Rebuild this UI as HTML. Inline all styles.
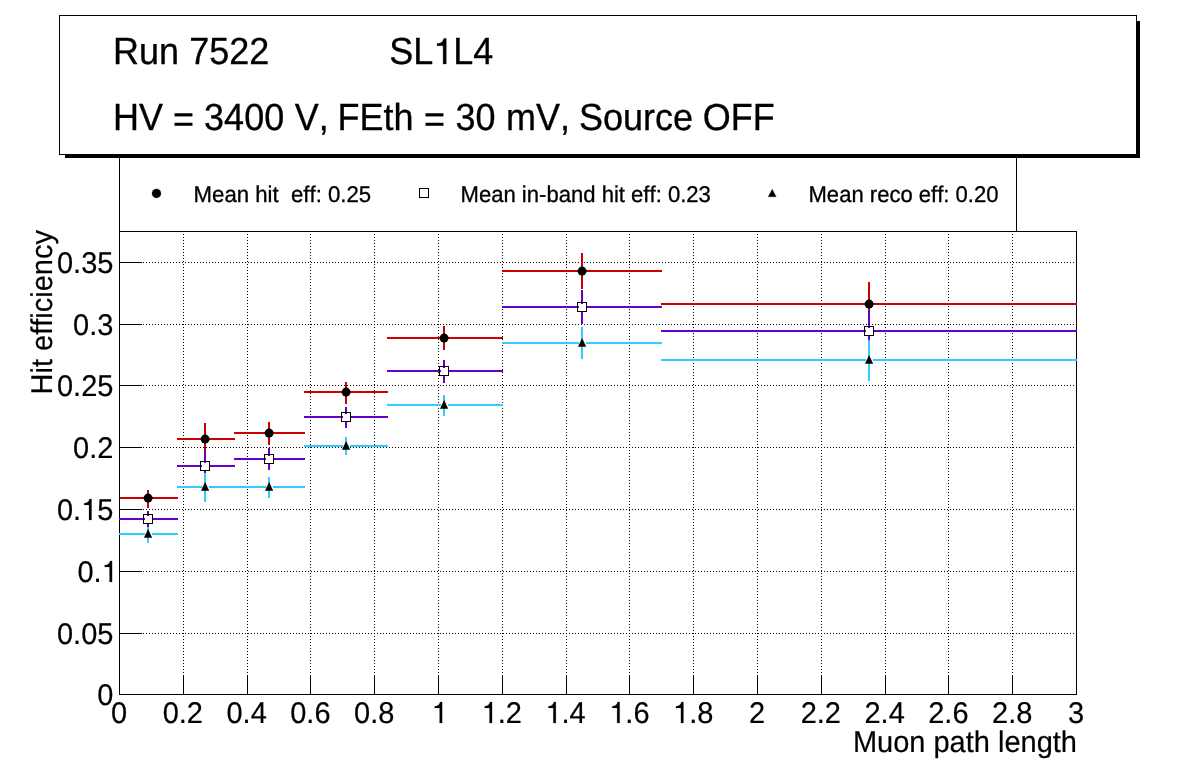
<!DOCTYPE html>
<html><head><meta charset="utf-8"><title>Hit efficiency</title>
<style>
html,body{margin:0;padding:0;background:#fff;}
body{width:1196px;height:772px;overflow:hidden;font-family:"Liberation Sans",sans-serif;}
#wrap{width:1196px;height:772px;will-change:transform;}
svg{display:block;}
svg text{font-family:"Liberation Sans",sans-serif;fill:#000;text-rendering:geometricPrecision;font-kerning:none;}
</style></head><body>
<div id="wrap">
<svg width="1196" height="772" viewBox="0 0 1196 772">
<g stroke="#000" stroke-width="1" stroke-dasharray="1 2" fill="none">
<line x1="183.5" y1="231" x2="183.5" y2="694"/>
<line x1="247.5" y1="231" x2="247.5" y2="694"/>
<line x1="310.5" y1="231" x2="310.5" y2="694"/>
<line x1="374.5" y1="231" x2="374.5" y2="694"/>
<line x1="438.5" y1="231" x2="438.5" y2="694"/>
<line x1="502.5" y1="231" x2="502.5" y2="694"/>
<line x1="566.5" y1="231" x2="566.5" y2="694"/>
<line x1="629.5" y1="231" x2="629.5" y2="694"/>
<line x1="693.5" y1="231" x2="693.5" y2="694"/>
<line x1="757.5" y1="231" x2="757.5" y2="694"/>
<line x1="821.5" y1="231" x2="821.5" y2="694"/>
<line x1="885.5" y1="231" x2="885.5" y2="694"/>
<line x1="948.5" y1="231" x2="948.5" y2="694"/>
<line x1="1012.5" y1="231" x2="1012.5" y2="694"/>
<line x1="119" y1="633.5" x2="1076" y2="633.5"/>
<line x1="119" y1="571.5" x2="1076" y2="571.5"/>
<line x1="119" y1="509.5" x2="1076" y2="509.5"/>
<line x1="119" y1="447.5" x2="1076" y2="447.5"/>
<line x1="119" y1="385.5" x2="1076" y2="385.5"/>
<line x1="119" y1="324.5" x2="1076" y2="324.5"/>
<line x1="119" y1="262.5" x2="1076" y2="262.5"/>
</g>
<g stroke="#000" stroke-width="1" fill="none" shape-rendering="crispEdges">
<rect x="119.5" y="231.5" width="957.0" height="463.0"/>
<line x1="183.5" y1="694.5" x2="183.5" y2="675.5"/>
<line x1="247.5" y1="694.5" x2="247.5" y2="675.5"/>
<line x1="310.5" y1="694.5" x2="310.5" y2="675.5"/>
<line x1="374.5" y1="694.5" x2="374.5" y2="675.5"/>
<line x1="438.5" y1="694.5" x2="438.5" y2="675.5"/>
<line x1="502.5" y1="694.5" x2="502.5" y2="675.5"/>
<line x1="566.5" y1="694.5" x2="566.5" y2="675.5"/>
<line x1="629.5" y1="694.5" x2="629.5" y2="675.5"/>
<line x1="693.5" y1="694.5" x2="693.5" y2="675.5"/>
<line x1="757.5" y1="694.5" x2="757.5" y2="675.5"/>
<line x1="821.5" y1="694.5" x2="821.5" y2="675.5"/>
<line x1="885.5" y1="694.5" x2="885.5" y2="675.5"/>
<line x1="948.5" y1="694.5" x2="948.5" y2="675.5"/>
<line x1="1012.5" y1="694.5" x2="1012.5" y2="675.5"/>
<line x1="119.5" y1="633.5" x2="141.5" y2="633.5"/>
<line x1="119.5" y1="571.5" x2="141.5" y2="571.5"/>
<line x1="119.5" y1="509.5" x2="141.5" y2="509.5"/>
<line x1="119.5" y1="447.5" x2="141.5" y2="447.5"/>
<line x1="119.5" y1="385.5" x2="141.5" y2="385.5"/>
<line x1="119.5" y1="324.5" x2="141.5" y2="324.5"/>
<line x1="119.5" y1="262.5" x2="141.5" y2="262.5"/>
</g>
<g stroke="#cc0000" stroke-width="2" fill="none" shape-rendering="crispEdges">
<line x1="120.0" y1="498" x2="178.0" y2="498"/><line x1="148" y1="490.4" x2="148" y2="507.5"/>
<line x1="177.0" y1="439" x2="235.0" y2="439"/><line x1="205" y1="423.1" x2="205" y2="452.0"/>
<line x1="234.0" y1="433" x2="305.0" y2="433"/><line x1="269" y1="422.1" x2="269" y2="444.7"/>
<line x1="304.0" y1="392" x2="388.0" y2="392"/><line x1="346" y1="382.0" x2="346" y2="403.8"/>
<line x1="387.0" y1="338" x2="503.0" y2="338"/><line x1="444" y1="326.0" x2="444" y2="349.9"/>
<line x1="502.0" y1="271" x2="662.0" y2="271"/><line x1="582" y1="253.0" x2="582" y2="288.9"/>
<line x1="661.0" y1="304" x2="1077.0" y2="304"/><line x1="869" y1="282.1" x2="869" y2="326.0"/>
</g>
<circle cx="148.1" cy="498.1" r="4.5" fill="#000"/>
<circle cx="205.1" cy="439.1" r="4.5" fill="#000"/>
<circle cx="269.1" cy="433.1" r="4.5" fill="#000"/>
<circle cx="346.1" cy="392.1" r="4.5" fill="#000"/>
<circle cx="444.1" cy="338.1" r="4.5" fill="#000"/>
<circle cx="582.1" cy="271.1" r="4.5" fill="#000"/>
<circle cx="869.1" cy="304.1" r="4.5" fill="#000"/>
<g stroke="#6600cc" stroke-width="2" fill="none" shape-rendering="crispEdges">
<line x1="119.0" y1="519" x2="178.0" y2="519"/><line x1="148" y1="511.0" x2="148" y2="528.0"/>
<line x1="177.0" y1="466" x2="235.0" y2="466"/><line x1="205" y1="451.0" x2="205" y2="482.0"/>
<line x1="234.0" y1="459" x2="305.0" y2="459"/><line x1="269" y1="447.7" x2="269" y2="469.5"/>
<line x1="304.0" y1="417" x2="388.0" y2="417"/><line x1="346" y1="407.1" x2="346" y2="427.7"/>
<line x1="387.0" y1="371" x2="503.0" y2="371"/><line x1="444" y1="359.9" x2="444" y2="382.5"/>
<line x1="502.0" y1="307" x2="662.0" y2="307"/><line x1="582" y1="290.2" x2="582" y2="324.0"/>
<line x1="661.0" y1="331" x2="1077.0" y2="331"/><line x1="869" y1="309.5" x2="869" y2="353.0"/>
</g>
<rect x="143.5" y="514.5" width="9" height="9" fill="#fff" stroke="#000" stroke-width="1" shape-rendering="crispEdges"/>
<path d="M144 519h1M148 515v1" stroke="#6600cc" stroke-width="2" shape-rendering="crispEdges"/>
<rect x="200.5" y="461.5" width="9" height="9" fill="#fff" stroke="#000" stroke-width="1" shape-rendering="crispEdges"/>
<path d="M201 466h1M205 462v1" stroke="#6600cc" stroke-width="2" shape-rendering="crispEdges"/>
<rect x="264.5" y="454.5" width="9" height="9" fill="#fff" stroke="#000" stroke-width="1" shape-rendering="crispEdges"/>
<path d="M265 459h1M269 455v1" stroke="#6600cc" stroke-width="2" shape-rendering="crispEdges"/>
<rect x="341.5" y="412.5" width="9" height="9" fill="#fff" stroke="#000" stroke-width="1" shape-rendering="crispEdges"/>
<path d="M342 417h1M346 413v1" stroke="#6600cc" stroke-width="2" shape-rendering="crispEdges"/>
<rect x="439.5" y="366.5" width="9" height="9" fill="#fff" stroke="#000" stroke-width="1" shape-rendering="crispEdges"/>
<path d="M440 371h1M444 367v1" stroke="#6600cc" stroke-width="2" shape-rendering="crispEdges"/>
<rect x="577.5" y="302.5" width="9" height="9" fill="#fff" stroke="#000" stroke-width="1" shape-rendering="crispEdges"/>
<path d="M578 307h1M582 303v1" stroke="#6600cc" stroke-width="2" shape-rendering="crispEdges"/>
<rect x="864.5" y="326.5" width="9" height="9" fill="#fff" stroke="#000" stroke-width="1" shape-rendering="crispEdges"/>
<path d="M865 331h1M869 327v1" stroke="#6600cc" stroke-width="2" shape-rendering="crispEdges"/>
<g stroke="#33ccff" stroke-width="2" fill="none" shape-rendering="crispEdges">
<line x1="119.0" y1="534" x2="145.0" y2="534"/><line x1="152.0" y1="534" x2="178.0" y2="534"/><line x1="148" y1="527.0" x2="148" y2="543.0"/>
<line x1="177.0" y1="487" x2="202.0" y2="487"/><line x1="209.0" y1="487" x2="235.0" y2="487"/><line x1="205" y1="473.0" x2="205" y2="501.6"/>
<line x1="234.0" y1="487" x2="266.0" y2="487"/><line x1="273.0" y1="487" x2="305.0" y2="487"/><line x1="269" y1="477.3" x2="269" y2="498.4"/>
<line x1="304.0" y1="446" x2="343.0" y2="446"/><line x1="350.0" y1="446" x2="388.0" y2="446"/><line x1="346" y1="437.2" x2="346" y2="455.2"/>
<line x1="387.0" y1="405" x2="441.0" y2="405"/><line x1="448.0" y1="405" x2="503.0" y2="405"/><line x1="444" y1="395.0" x2="444" y2="415.6"/>
<line x1="502.0" y1="343" x2="579.0" y2="343"/><line x1="586.0" y1="343" x2="662.0" y2="343"/><line x1="582" y1="327.0" x2="582" y2="358.6"/>
<line x1="661.0" y1="360" x2="866.0" y2="360"/><line x1="873.0" y1="360" x2="1077.0" y2="360"/><line x1="869" y1="340.0" x2="869" y2="381.0"/>
</g>
<path d="M148.1 529.1 L152.2 537.7 L144.0 537.7 Z" fill="#000"/>
<path d="M205.1 482.1 L209.2 490.7 L201.0 490.7 Z" fill="#000"/>
<path d="M269.1 482.1 L273.2 490.7 L265.0 490.7 Z" fill="#000"/>
<path d="M346.1 441.1 L350.2 449.7 L342.0 449.7 Z" fill="#000"/>
<path d="M444.1 400.1 L448.2 408.7 L440.0 408.7 Z" fill="#000"/>
<path d="M582.1 338.1 L586.2 346.7 L578.0 346.7 Z" fill="#000"/>
<path d="M869.1 355.1 L873.2 363.7 L865.0 363.7 Z" fill="#000"/>
<g font-size="29.0" stroke="#000" stroke-width="0.2">
<text transform="translate(110.94,723.00) scale(1,1.035)" font-size="29" stroke="#000" stroke-width="0.2"><tspan x="0.00">0</tspan></text>
<text transform="translate(162.64,723.00) scale(1,1.035)" font-size="29" stroke="#000" stroke-width="0.2"><tspan x="0.00">0.2</tspan></text>
<text transform="translate(226.44,723.00) scale(1,1.035)" font-size="29" stroke="#000" stroke-width="0.2"><tspan x="0.00">0.4</tspan></text>
<text transform="translate(290.24,723.00) scale(1,1.035)" font-size="29" stroke="#000" stroke-width="0.2"><tspan x="0.00">0.6</tspan></text>
<text transform="translate(354.04,723.00) scale(1,1.035)" font-size="29" stroke="#000" stroke-width="0.2"><tspan x="0.00">0.8</tspan></text>
<path transform="translate(431.74,723.00) scale(0.02900,-0.02962)" d="M359 0H272V508H104V566C196 568 262 604 291 709H359Z" stroke="#000" stroke-width="0.2" vector-effect="non-scaling-stroke"/>
<text transform="translate(481.64,723.00) scale(1,1.035)" font-size="29" stroke="#000" stroke-width="0.2"><tspan x="16.13">.2</tspan></text><path transform="translate(481.64,723.00) scale(0.02900,-0.02962)" d="M359 0H272V508H104V566C196 568 262 604 291 709H359Z" stroke="#000" stroke-width="0.2" vector-effect="non-scaling-stroke"/>
<text transform="translate(545.44,723.00) scale(1,1.035)" font-size="29" stroke="#000" stroke-width="0.2"><tspan x="16.13">.4</tspan></text><path transform="translate(545.44,723.00) scale(0.02900,-0.02962)" d="M359 0H272V508H104V566C196 568 262 604 291 709H359Z" stroke="#000" stroke-width="0.2" vector-effect="non-scaling-stroke"/>
<text transform="translate(609.24,723.00) scale(1,1.035)" font-size="29" stroke="#000" stroke-width="0.2"><tspan x="16.13">.6</tspan></text><path transform="translate(609.24,723.00) scale(0.02900,-0.02962)" d="M359 0H272V508H104V566C196 568 262 604 291 709H359Z" stroke="#000" stroke-width="0.2" vector-effect="non-scaling-stroke"/>
<text transform="translate(673.04,723.00) scale(1,1.035)" font-size="29" stroke="#000" stroke-width="0.2"><tspan x="16.13">.8</tspan></text><path transform="translate(673.04,723.00) scale(0.02900,-0.02962)" d="M359 0H272V508H104V566C196 568 262 604 291 709H359Z" stroke="#000" stroke-width="0.2" vector-effect="non-scaling-stroke"/>
<text transform="translate(748.94,723.00) scale(1,1.035)" font-size="29" stroke="#000" stroke-width="0.2"><tspan x="0.00">2</tspan></text>
<text transform="translate(800.64,723.00) scale(1,1.035)" font-size="29" stroke="#000" stroke-width="0.2"><tspan x="0.00">2.2</tspan></text>
<text transform="translate(864.44,723.00) scale(1,1.035)" font-size="29" stroke="#000" stroke-width="0.2"><tspan x="0.00">2.4</tspan></text>
<text transform="translate(928.24,723.00) scale(1,1.035)" font-size="29" stroke="#000" stroke-width="0.2"><tspan x="0.00">2.6</tspan></text>
<text transform="translate(992.04,723.00) scale(1,1.035)" font-size="29" stroke="#000" stroke-width="0.2"><tspan x="0.00">2.8</tspan></text>
<text transform="translate(1067.94,723.00) scale(1,1.035)" font-size="29" stroke="#000" stroke-width="0.2"><tspan x="0.00">3</tspan></text>
<text transform="translate(97.27,705.00) scale(1,1.035)" font-size="29" stroke="#000" stroke-width="0.2"><tspan x="0.00">0</tspan></text>
<text transform="translate(56.96,644.00) scale(1,1.035)" font-size="29" stroke="#000" stroke-width="0.2"><tspan x="0.00">0.05</tspan></text>
<text transform="translate(77.49,582.00) scale(1,1.035)" font-size="29" stroke="#000" stroke-width="0.2"><tspan x="0.00">0.</tspan></text><path transform="translate(101.67,582.00) scale(0.02900,-0.02962)" d="M359 0H272V508H104V566C196 568 262 604 291 709H359Z" stroke="#000" stroke-width="0.2" vector-effect="non-scaling-stroke"/>
<text transform="translate(56.96,520.00) scale(1,1.035)" font-size="29" stroke="#000" stroke-width="0.2"><tspan x="0.00">0.</tspan><tspan x="40.31">5</tspan></text><path transform="translate(81.14,520.00) scale(0.02900,-0.02962)" d="M359 0H272V508H104V566C196 568 262 604 291 709H359Z" stroke="#000" stroke-width="0.2" vector-effect="non-scaling-stroke"/>
<text transform="translate(73.09,458.00) scale(1,1.035)" font-size="29" stroke="#000" stroke-width="0.2"><tspan x="0.00">0.2</tspan></text>
<text transform="translate(56.96,396.00) scale(1,1.035)" font-size="29" stroke="#000" stroke-width="0.2"><tspan x="0.00">0.25</tspan></text>
<text transform="translate(73.09,335.00) scale(1,1.035)" font-size="29" stroke="#000" stroke-width="0.2"><tspan x="0.00">0.3</tspan></text>
<text transform="translate(56.96,273.00) scale(1,1.035)" font-size="29" stroke="#000" stroke-width="0.2"><tspan x="0.00">0.35</tspan></text>
<text transform="translate(1077,752.4) scale(1,1.035)" text-anchor="end">Muon path length</text>
<text transform="translate(51.5,394.5) rotate(-90) scale(1,1.035)">Hit efficiency</text>
</g>
<g stroke="#000" stroke-width="1" fill="none" shape-rendering="crispEdges">
<line x1="119.5" y1="158" x2="119.5" y2="231"/><line x1="1016.5" y1="158" x2="1016.5" y2="231"/>
</g>
<g font-size="22.2" stroke="#000" stroke-width="0.3">
<circle cx="156.5" cy="193.4" r="4.5" fill="#000"/>
<text transform="translate(193.6,202) scale(1,1.025)" xml:space="preserve">Mean hit  eff: 0.25</text>
<rect x="419.5" y="188.5" width="9" height="9" fill="#fff" stroke="#000" stroke-width="1" shape-rendering="crispEdges"/>
<text transform="translate(460.5,202) scale(0.995,1.025)">Mean in-band hit eff: 0.23</text>
<path d="M772.2 189.2 L776.2 196.8 L768.2 196.8 Z" fill="#000"/>
<text transform="translate(808.5,202) scale(0.994,1.025)">Mean reco eff: 0.20</text>
</g>
<g shape-rendering="crispEdges">
<rect x="65" y="21" width="1075" height="137" fill="#000"/>
<rect x="59.5" y="15.5" width="1077" height="139" fill="#fff" stroke="#000" stroke-width="1"/>
</g>
<g font-size="36.0" stroke="#000" stroke-width="0.3">
<text transform="translate(113.10,64.00) scale(1,1.050)">Run 7522</text>
<text transform="translate(389.30,64.00) scale(1,1.050)" font-size="36" stroke="#000" stroke-width="0.3"><tspan x="0.00">SL</tspan><tspan x="64.05">L4</tspan></text><path transform="translate(433.33,64.00) scale(0.03600,-0.03610)" d="M359 0H272V508H104V566C196 568 262 604 291 709H359Z" stroke="#000" stroke-width="0.3" vector-effect="non-scaling-stroke"/>
<text transform="translate(112.60,130.00) scale(1,1.050)" font-size="36"><tspan x="0.40" y="0">HV</tspan><tspan x="60.30" y="1.8">=</tspan><tspan x="91.50" y="0">3400</tspan><tspan x="182.10" y="0">V,</tspan><tspan x="224.80" y="0">FEth</tspan><tspan x="311.40" y="1.8">=</tspan><tspan x="342.90" y="0">30</tspan><tspan x="393.50" y="0">mV,</tspan><tspan x="466.40" y="0">Source</tspan><tspan x="590.20" y="0">OFF</tspan></text>
</g>
</svg>
</div>
</body></html>
